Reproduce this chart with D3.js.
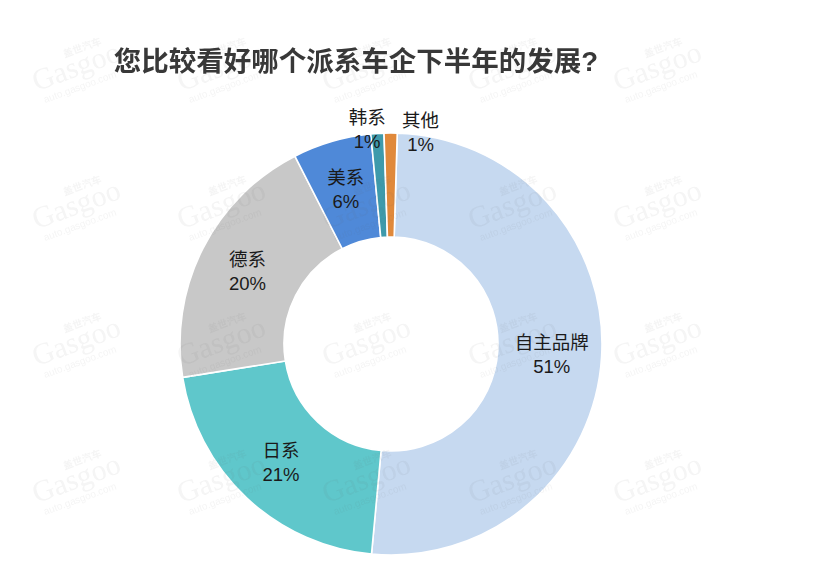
<!DOCTYPE html>
<html>
<head>
<meta charset="utf-8">
<script src="https://cdn.jsdelivr.net/npm/d3@7"></script>
<style>
  html, body { margin: 0; padding: 0; background: #fff; }
  svg { display: block; }
</style>
</head>
<body>
<svg id="chart" width="820" height="588"></svg>
<script>
// ---- data ----
const title = "您比较看好哪个派系车企下半年的发展?";
const categories = ["自主品牌", "日系", "德系", "美系", "韩系", "其他"];
const values = [51, 21, 20, 6, 1, 1];           // percent
const valueLabels = ["51%", "21%", "20%", "6%", "1%", "1%"];

// ---- style ----
const palette = ["#c6d9f0", "#5fc7cb", "#c8c8c8", "#4f89d8", "#3e9aab", "#e0893b"];
const W = 820, H = 588;
const cx = 391, cy = 344, R = 211, r0 = 107;
const startOffset = 1.7 * Math.PI / 180;
const outside = { "韩系": [-10, 0], "其他": [30, 3] };
const fontStack = '"Helvetica Neue", Helvetica, Arial, "Liberation Sans", "Noto Sans CJK SC", sans-serif';

const svg = d3.select("#chart");
svg.append("rect").attr("width", W).attr("height", H).attr("fill", "#fff");

const data = categories.map((c, i) => ({ name: c, value: values[i], label: valueLabels[i], color: palette[i] }));

const pie = d3.pie().value(d => d.value).sort(null)
  .startAngle(startOffset).endAngle(startOffset + 2 * Math.PI);
const arc = d3.arc().innerRadius(r0).outerRadius(R);
const labelArc = d3.arc().innerRadius(161).outerRadius(161);
const outerArc = d3.arc().innerRadius(215).outerRadius(215);

const g = svg.append("g").attr("transform", `translate(${cx},${cy})`);
const arcs = pie(data);

g.selectAll("path.slice").data(arcs).join("path")
  .attr("class", "slice")
  .attr("d", arc)
  .attr("fill", d => d.data.color)
  .attr("stroke", "#fff")
  .attr("stroke-width", 1.6)
  .attr("stroke-linejoin", "round");

// watermark grid (faint)
const wmCols = [72, 217, 362, 508, 653];
const wmRows = [72, 210, 347, 484];
const wm = svg.append("g").attr("opacity", 0.07).attr("pointer-events", "none");
wmRows.forEach(y => wmCols.forEach(x => {
  const w = wm.append("g").attr("transform", `translate(${x},${y}) rotate(-20)`);
  w.append("text").attr("x", -2).attr("y", -16).attr("font-family", '"Noto Sans CJK SC", sans-serif')
    .attr("font-weight", "bold").attr("font-size", 10).attr("fill", "#666").text("盖世汽车");
  w.append("text").attr("x", -40).attr("y", 6).attr("font-family", '"Liberation Serif", "DejaVu Serif", serif')
    .attr("font-size", 30).attr("fill", "#666").text("Gasgoo");
  w.append("text").attr("x", -36).attr("y", 20).attr("font-family", fontStack)
    .attr("font-size", 10).attr("fill", "#666").text("auto.gasgoo.com");
}));

// title
svg.append("text")
  .attr("x", 356).attr("y", 71)
  .attr("text-anchor", "middle")
  .attr("font-family", fontStack)
  .attr("font-weight", "bold")
  .attr("font-size", 27.5)
  .attr("fill", "#383838")
  .text(title);

const lbl = g.selectAll("g.lbl").data(arcs).join("g")
  .attr("class", "lbl")
  .attr("transform", d => {
    const o = outside[d.data.name];
    if (o) {
      const p = outerArc.centroid(d);
      return `translate(${p[0] + o[0]},${p[1] + o[1]})`;
    }
    const p = labelArc.centroid(d);
    return `translate(${p[0]},${p[1]})`;
  });

lbl.append("text")
  .attr("text-anchor", "middle")
  .attr("y", -5)
  .attr("font-family", fontStack)
  .attr("font-size", 18.5)
  .attr("fill", "#1a1a1a")
  .text(d => d.data.name);
lbl.append("text")
  .attr("text-anchor", "middle")
  .attr("y", 19)
  .attr("font-family", fontStack)
  .attr("font-size", 18.5)
  .attr("fill", "#1a1a1a")
  .text(d => d.data.label);
</script>
</body>
</html>
